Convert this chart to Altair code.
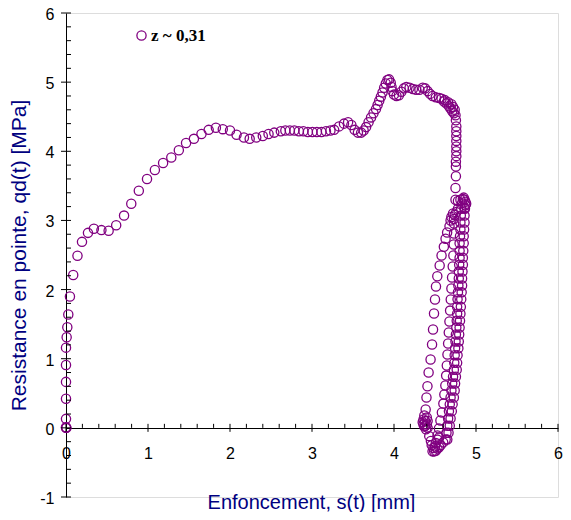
import altair as alt
import pandas as pd

# ---- data ----
seg1_s = [0.0, 0.005, 0.0, 0.0, 0.0, 0.0, 0.0, 0.0, 0.008, 0.016, 0.028, 0.048, 0.088, 0.14, 0.195,
          0.268, 0.34, 0.432, 0.52, 0.612, 0.708, 0.796, 0.888, 0.988, 1.084, 1.184, 1.284, 1.376,
          1.464, 1.56, 1.652, 1.74, 1.828, 1.912, 2.0, 2.08, 2.17, 2.24, 2.32, 2.40, 2.47, 2.54]
seg1_q = [0.0, 0.0, 0.01, 0.13, 0.42, 0.665, 0.91, 1.16, 1.31, 1.455, 1.64, 1.90, 2.21, 2.49, 2.69,
          2.82, 2.88, 2.86, 2.85, 2.93, 3.07, 3.24, 3.43, 3.60, 3.73, 3.83, 3.91, 4.015,
          4.12, 4.18, 4.25, 4.31, 4.34, 4.32, 4.30, 4.24, 4.20, 4.18, 4.20, 4.22, 4.25, 4.27]

seg2_s = [2.62, 2.675, 2.73, 2.785, 2.84, 2.895, 2.95, 3.005, 3.06, 3.115, 3.17, 3.225, 3.27, 3.33,
          3.39, 3.44, 3.48, 3.52, 3.56, 3.60, 3.63, 3.66, 3.69, 3.72, 3.75, 3.78, 3.80, 3.82, 3.84,
          3.86, 3.88, 3.90, 3.92, 3.94, 3.96, 3.97, 3.98, 4.0, 4.03, 4.06, 4.09, 4.12, 4.15, 4.19,
          4.23, 4.27, 4.31, 4.35, 4.38, 4.41, 4.44, 4.47, 4.51, 4.55, 4.58, 4.61, 4.64, 4.67, 4.69,
          4.71, 4.66, 4.70, 4.72, 4.74, 4.62, 4.73]
seg2_q = [4.29, 4.30, 4.30, 4.30, 4.29, 4.29, 4.28, 4.28, 4.28, 4.28, 4.29, 4.30, 4.31, 4.36,
          4.40, 4.42, 4.38, 4.31, 4.27, 4.27, 4.30, 4.35, 4.42, 4.49, 4.55, 4.61, 4.67, 4.73, 4.79,
          4.85, 4.92, 4.98, 5.03, 5.04, 4.99, 4.93, 4.87, 4.82, 4.80, 4.81, 4.86, 4.91, 4.93, 4.92,
          4.90, 4.89, 4.89, 4.92, 4.91, 4.87, 4.83, 4.80, 4.78, 4.77, 4.76, 4.72, 4.69, 4.65, 4.62,
          4.58, 4.71, 4.68, 4.64, 4.60, 4.74, 4.55]

# descent at maximum penetration
seg3_s = [4.75, 4.755, 4.76, 4.76, 4.76, 4.76, 4.76, 4.76, 4.76, 4.755, 4.755, 4.755, 4.75, 4.75]
seg3_q = [4.52, 4.45, 4.36, 4.29, 4.22, 4.15, 4.07, 4.00, 3.93, 3.85, 3.78, 3.64, 3.47, 3.30]

# top right cluster of the loop
seg4_s = [4.78, 4.81, 4.84, 4.86, 4.87, 4.87, 4.85, 4.83, 4.86, 4.88]
seg4_q = [3.28, 3.30, 3.31, 3.30, 3.27, 3.22, 3.33, 3.25, 3.18, 3.24]

# right branches of the loop
seg5_s = [4.865, 4.86, 4.86, 4.855, 4.85, 4.85, 4.845, 4.84, 4.84, 4.835, 4.83, 4.83, 4.825, 4.82,
          4.815, 4.81, 4.805, 4.80, 4.795, 4.79, 4.785, 4.775, 4.77, 4.765, 4.755, 4.745, 4.74,
          4.73, 4.715, 4.705, 4.69, 4.68, 4.665, 4.65]
seg5_q = [3.17, 3.07, 2.97, 2.87, 2.77, 2.67, 2.56, 2.46, 2.36, 2.26, 2.16, 2.06, 1.96, 1.86,
          1.75, 1.65, 1.55, 1.45, 1.35, 1.25, 1.15, 1.05, 0.94, 0.84, 0.74, 0.64, 0.54,
          0.44, 0.34, 0.24, 0.135, 0.03, -0.07, -0.17]
seg6_s = [4.82, 4.815, 4.81, 4.81, 4.805, 4.80, 4.80, 4.80, 4.795, 4.79, 4.79, 4.785, 4.78, 4.775,
          4.77, 4.77, 4.765, 4.76, 4.755, 4.75, 4.745, 4.74, 4.735, 4.73, 4.72, 4.71, 4.70, 4.69,
          4.68, 4.67, 4.66, 4.65, 4.64, 4.63]
seg6_q = [3.17, 3.07, 2.97, 2.87, 2.77, 2.67, 2.56, 2.46, 2.36, 2.26, 2.16, 2.06, 1.96, 1.86,
          1.75, 1.65, 1.55, 1.45, 1.35, 1.25, 1.15, 1.05, 0.94, 0.84, 0.74, 0.64, 0.54,
          0.44, 0.34, 0.24, 0.135, 0.03, -0.07, -0.17]

# bottom of the loop
seg7_s = [4.60, 4.57, 4.55, 4.53, 4.51, 4.49, 4.48, 4.47, 4.51, 4.53, 4.55, 4.45, 4.43, 4.50, 4.46]
seg7_q = [-0.21, -0.25, -0.28, -0.30, -0.33, -0.34, -0.29, -0.34, -0.22, -0.17, -0.14, -0.19,
          -0.12, -0.27, -0.25]

# middle rising branch
seg8_s = [4.53, 4.548, 4.566, 4.584, 4.602, 4.614, 4.626, 4.636, 4.644, 4.652, 4.66, 4.668,
          4.676, 4.684, 4.692, 4.70, 4.708, 4.716, 4.724, 4.728, 4.732, 4.732]
seg8_q = [-0.11, -0.01, 0.106, 0.221, 0.351, 0.482, 0.612, 0.756, 0.901, 1.06, 1.219, 1.378,
          1.537, 1.696, 1.856, 2.015, 2.174, 2.333, 2.492, 2.651, 2.81, 2.954]

# left cluster and outer left branch
seg9_s = [4.74, 4.72, 4.70, 4.73, 4.76, 4.78, 4.69, 4.677, 4.648, 4.629, 4.608, 4.58, 4.557,
          4.528, 4.512, 4.50, 4.488, 4.476, 4.464, 4.446, 4.422, 4.408, 4.396, 4.386]
seg9_q = [3.08, 3.10, 3.05, 3.02, 3.12, 3.17, 3.00, 2.916, 2.825, 2.734, 2.618, 2.492, 2.347,
          2.193, 2.044, 1.856, 1.653, 1.422, 1.205, 0.988, 0.80, 0.602, 0.438, 0.265]

# bottom-left cluster
seg10_s = [4.37, 4.36, 4.35, 4.36, 4.38, 4.40, 4.41, 4.40, 4.38, 4.37, 4.39, 4.41]
seg10_q = [0.18, 0.12, 0.08, 0.05, 0.03, 0.05, 0.10, 0.15, 0.10, 0.02, -0.02, 0.0]

s_mm = seg1_s + seg2_s + seg3_s + seg4_s + seg5_s + seg6_s + seg7_s + seg8_s + seg9_s + seg10_s
qd_mpa = seg1_q + seg2_q + seg3_q + seg4_q + seg5_q + seg6_q + seg7_q + seg8_q + seg9_q + seg10_q
serie_label = "z ~ 0,31"

x_major = [0, 1, 2, 3, 4, 5, 6]
x_minor = [0.2, 0.4, 0.6, 0.8, 1.2, 1.4, 1.6, 1.8, 2.2, 2.4, 2.6, 2.8, 3.2, 3.4, 3.6, 3.8,
           4.2, 4.4, 4.6, 4.8, 5.2, 5.4, 5.6, 5.8]
y_major = [-1, 0, 1, 2, 3, 4, 5, 6]
y_minor = [-0.8, -0.6, -0.4, -0.2, 0.2, 0.4, 0.6, 0.8, 1.2, 1.4, 1.6, 1.8, 2.2, 2.4, 2.6, 2.8,
           3.2, 3.4, 3.6, 3.8, 4.2, 4.4, 4.6, 4.8, 5.2, 5.4, 5.6, 5.8]

PURPLE = "#800080"
NAVY = "#000080"
FONT = "Liberation Sans"

df = pd.DataFrame({"s": s_mm, "qd": qd_mpa, "serie": serie_label})

xscale = alt.Scale(domain=[0, 6], nice=False, zero=False)
yscale = alt.Scale(domain=[-1, 6], nice=False, zero=False)

xaxis = alt.Axis(
    values=x_major, labelExpr="'' + datum.value", offset=-69, ticks=False, tickSize=0,
    grid=False, domainColor="black", domainWidth=1, labelFlush=False, labelOverlap=False,
    labelFont=FONT, labelFontSize=16, labelColor="black", labelPadding=17,
    title="Enfoncement, s(t) [mm]", titleFont=FONT, titleFontSize=20,
    titleFontWeight="normal", titleColor=NAVY, titleX=245, titleY=80,
    titleBaseline="alphabetic", titleAlign="center")
yaxis = alt.Axis(
    values=y_major, labelExpr="'' + datum.value", ticks=False, tickSize=0, grid=False,
    domainColor="black", domainWidth=1, labelFlush=False, labelOverlap=False,
    labelFont=FONT, labelFontSize=16, labelColor="black", labelPadding=12, labelOffset=1.5,
    title="Resistance en pointe, qd(t) [MPa]", titleFont=FONT, titleFontSize=21,
    titleFontWeight="normal", titleColor=NAVY, titleX=-47, titleY=242,
    titleAngle=270, titleBaseline="middle", titleAlign="center")

points = alt.Chart(df).mark_point(
    shape="circle", filled=False, size=85, strokeWidth=1.3, opacity=1
).encode(
    x=alt.X("s:Q", scale=xscale, axis=xaxis),
    y=alt.Y("qd:Q", scale=yscale, axis=yaxis),
    color=alt.Color("serie:N", scale=alt.Scale(range=[PURPLE]), legend=alt.Legend(
        orient="none", legendX=67, legendY=14, title=None, padding=0,
        labelFont="Liberation Serif", labelFontWeight="bold", labelFontSize=17,
        labelColor="black", labelOffset=1, symbolSize=85, symbolStrokeWidth=1.3,
        symbolType="circle")),
)

xmaj = alt.Chart(pd.DataFrame({"v": x_major})).mark_rule(
    color="black", strokeWidth=1, yOffset=-4, y2Offset=4
).encode(x=alt.X("v:Q", scale=xscale, axis=xaxis),
         y=alt.Y(datum=0, scale=yscale, axis=yaxis), y2=alt.Y2(datum=0))
xmin = alt.Chart(pd.DataFrame({"v": x_minor})).mark_rule(
    color="black", strokeWidth=1, yOffset=-4, y2Offset=0
).encode(x=alt.X("v:Q", scale=xscale, axis=xaxis),
         y=alt.Y(datum=0, scale=yscale, axis=yaxis), y2=alt.Y2(datum=0))
ymaj = alt.Chart(pd.DataFrame({"v": y_major})).mark_rule(
    color="black", strokeWidth=1, xOffset=-5, x2Offset=5
).encode(y=alt.Y("v:Q", scale=yscale, axis=yaxis),
         x=alt.X(datum=0, scale=xscale, axis=xaxis), x2=alt.X2(datum=0))
ymin = alt.Chart(pd.DataFrame({"v": y_minor})).mark_rule(
    color="black", strokeWidth=1, xOffset=0, x2Offset=5
).encode(y=alt.Y("v:Q", scale=yscale, axis=yaxis),
         x=alt.X(datum=0, scale=xscale, axis=xaxis), x2=alt.X2(datum=0))

chart = alt.layer(points, xmaj, xmin, ymaj, ymin).properties(
    width=492, height=484,
    autosize=alt.AutoSizeParams(type="none"),
    padding={"left": 58, "top": 5, "right": 5, "bottom": 15},
).configure_view(stroke=None).configure(background="white")

chart.save("out.html", embed_options={"renderer": "svg", "actions": False})
